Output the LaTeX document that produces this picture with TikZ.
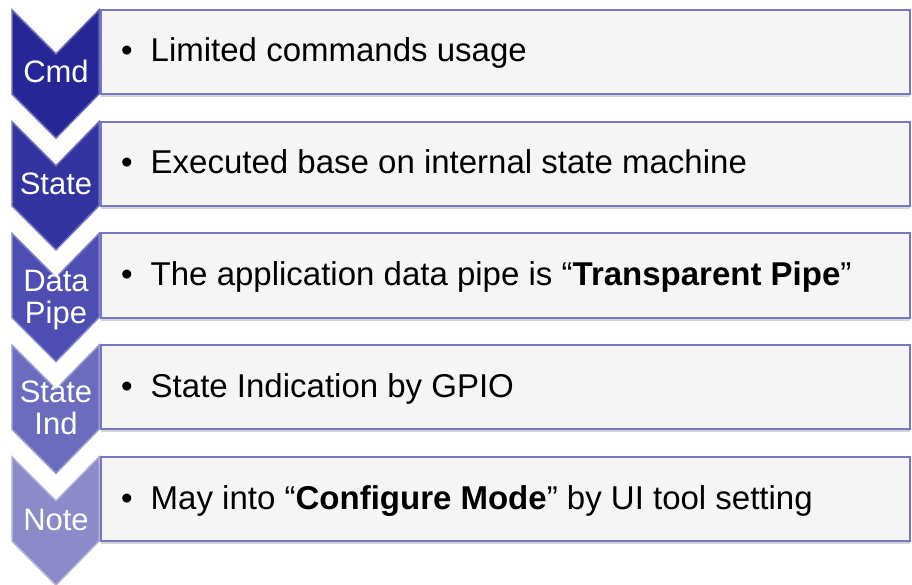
\documentclass[tikz,border=0pt]{standalone}
\usepackage{fontspec}
\setmainfont{Liberation Sans}
\usetikzlibrary{positioning,shadows}

\definecolor{cmdfill}{RGB}{38,38,150}
\definecolor{statefill}{RGB}{52,52,160}
\definecolor{datafill}{RGB}{78,78,178}
\definecolor{indfill}{RGB}{108,108,190}
\definecolor{notefill}{RGB}{140,138,200}
\definecolor{boxline}{RGB}{118,118,196}
\definecolor{boxfill}{RGB}{245,245,245}

\begin{document}
\begin{tikzpicture}[x=1pt, y=-1pt, node distance=27.75pt]
  \tikzstyle{itembox} = [rectangle, draw=boxline, fill=boxfill, line width=2pt, outer sep=0pt, minimum width=809pt, minimum height=84pt, drop shadow={shadow xshift=0pt, shadow yshift=-3pt, opacity=.35}]
  \tikzstyle{itemtext} = [anchor=base west, inner sep=0pt, font=\fontsize{33}{38}\selectfont]
  \tikzstyle{taglabel} = [text=white, inner sep=0pt, align=center, font=\fontsize{31}{32}\selectfont]
  \tikzset{chevron/.pic={\path[pic actions] (-89,0) -- (-45,44) -- (-2,0) -- (-2,84) -- (-45,128) -- (-89,84) -- cycle;}}

  \useasboundingbox (0,0) rectangle (912,585);

  \node [itembox, anchor=north west] (box1) at (101,10) {};
  \node [itembox, below=of box1] (box2) {};
  \node [itembox, below=of box2] (box3) {};
  \node [itembox, below=of box3] (box4) {};
  \node [itembox, below=of box4] (box5) {};

  \pic [fill=cmdfill, draw=cmdfill!70!white, line width=1.5pt] at (box1.north west) {chevron};
  \pic [fill=statefill, draw=statefill!70!white, line width=1.5pt] at (box2.north west) {chevron};
  \pic [fill=datafill, draw=datafill!70!white, line width=1.5pt] at (box3.north west) {chevron};
  \pic [fill=indfill, draw=indfill!70!white, line width=1.5pt] at (box4.north west) {chevron};
  \pic [fill=notefill, draw=notefill!70!white, line width=1.5pt] at (box5.north west) {chevron};

  \node [taglabel, anchor=base] (cmd) at ([xshift=-45pt, yshift=-73pt]box1.north west) {Cmd};
  \node [taglabel, anchor=base] (state) at ([xshift=-45pt, yshift=-73pt]box2.north west) {State};
  \node [taglabel, anchor=north] (pipe) at ([xshift=-45pt, yshift=-36pt]box3.north west) {Data\\Pipe};
  \node [taglabel, anchor=north] (ind) at ([xshift=-45pt, yshift=-35pt]box4.north west) {State\\Ind};
  \node [taglabel, anchor=base] (note) at ([xshift=-45pt, yshift=-73pt]box5.north west) {Note};

  \node [itemtext] (txt1) at ([xshift=20pt, yshift=-52pt]box1.north west) {\textbullet\hspace{18pt}Limited commands usage};
  \node [itemtext] (txt2) at ([xshift=20pt, yshift=-52pt]box2.north west) {\textbullet\hspace{18pt}Executed base on internal state machine};
  \node [itemtext] (txt3) at ([xshift=20pt, yshift=-52pt]box3.north west) {\textbullet\hspace{18pt}The application data pipe is “\textbf{Transparent Pipe}”};
  \node [itemtext] (txt4) at ([xshift=20pt, yshift=-52pt]box4.north west) {\textbullet\hspace{18pt}State Indication by GPIO};
  \node [itemtext] (txt5) at ([xshift=20pt, yshift=-52pt]box5.north west) {\textbullet\hspace{18pt}May into “\textbf{Configure Mode}” by UI tool setting};
\end{tikzpicture}
\end{document}
